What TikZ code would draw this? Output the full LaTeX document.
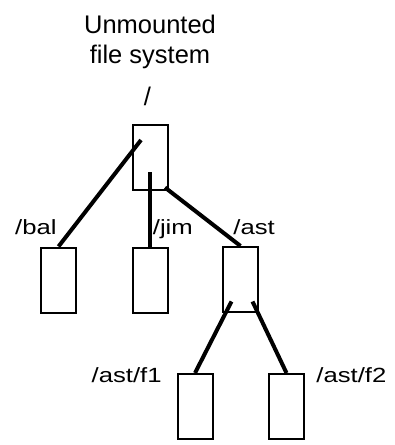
\documentclass[tikz,border=0pt]{standalone}
\usepackage{fontspec}
\setmainfont{Liberation Sans}
\newfontfamily\stretchfont[FakeStretch=1.25]{Liberation Sans}
\usetikzlibrary{positioning, calc}

\begin{document}
\begin{tikzpicture}[
    on grid,
    dirbox/.style={draw, rectangle, line width=0.04cm, minimum width=0.7cm, minimum height=1.3cm, inner sep=0pt},
    dirlabel/.style={inner sep=0pt, font=\stretchfont\fontsize{11.7}{14}\selectfont},
    heading/.style={inner sep=0pt, align=center, font=\fontsize{14.5}{17}\selectfont},
    edgeline/.style={draw, line width=0.08cm}
]
    \useasboundingbox (0,0) rectangle (7.88,-8.9);

    \node[dirbox] (root) at (3.0,-3.15) {};
    \node[dirbox, below left=2.45cm and 1.83cm of root] (bal) {};
    \node[dirbox, below=2.45cm of root] (jim) {};
    \node[dirbox, below right=2.44cm and 1.81cm of root] (ast) {};
    \node[dirbox, below left=2.54cm and 0.91cm of ast] (f1) {};
    \node[dirbox, below right=2.54cm and 0.92cm of ast] (f2) {};

    \node[heading] (title) at (3.0,-0.83) {Unmounted\\file system};
    \node[heading, anchor=base] (rootname) at ($(root.north)+(-0.05,0.36)$) {/};

    \node[dirlabel, anchor=base east] (balname) at ($(bal.north)+(-0.03,0.25)$) {/bal};
    \node[dirlabel, anchor=base west] (jimname) at ($(jim.north)+(0.05,0.25)$) {/jim};
    \node[dirlabel, anchor=base west] (astname) at ($(ast.north)+(-0.15,0.24)$) {/ast};
    \node[dirlabel, anchor=base east] (f1name) at ($(f1.north west)+(-0.29,-0.18)$) {/ast/f1};
    \node[dirlabel, anchor=base west] (f2name) at ($(f2.north east)+(0.22,-0.18)$) {/ast/f2};

    % links start inside the parent box
    \draw[edgeline] ($(root.center)+(-0.18,0.35)$) -- (bal.north);
    \draw[edgeline] ($(root.center)+(0,-0.3)$) -- (jim.north);
    \draw[edgeline] ($(root.south east)+(-0.07,0.07)$) -- (ast.north);
    \draw[edgeline] ($(ast.center)+(-0.18,-0.44)$) -- (f1.north);
    \draw[edgeline] ($(ast.center)+(0.24,-0.44)$) -- (f2.north);
\end{tikzpicture}
\end{document}
